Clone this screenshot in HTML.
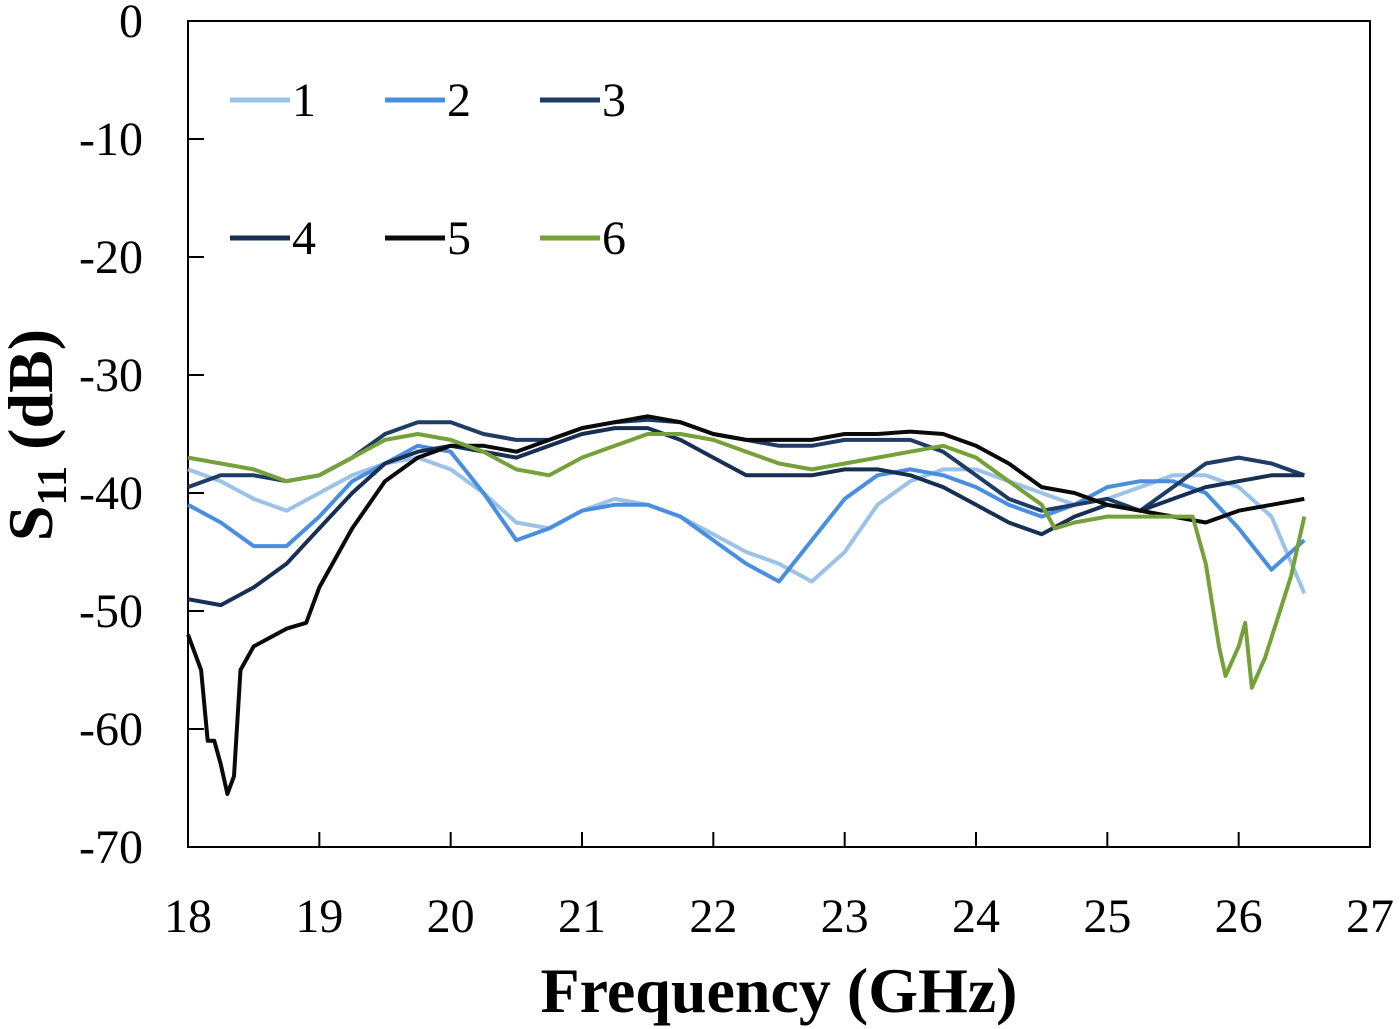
<!DOCTYPE html>
<html><head><meta charset="utf-8"><style>
body{margin:0;background:#fff;}
svg{display:block;font-family:"Liberation Serif",serif;}
</style></head><body>
<svg id="chart" width="1400" height="1029" viewBox="0 0 1400 1029">
<rect x="188" y="21" width="1182" height="826" fill="#fff" stroke="#000" stroke-width="2"/>
<g id="axes"></g>
<g id="series"></g>
<g id="legend"></g>
<text x="779" y="1012" font-size="64" font-weight="bold" text-anchor="middle">Frequency (GHz)</text>
<text transform="translate(52,435) rotate(-90)" font-size="64" font-weight="bold" text-anchor="middle">S<tspan font-size="42" dy="14">11</tspan><tspan dy="-14"> (dB)</tspan></text>
</svg>
<script>
const xTicks=[18,19,20,21,22,23,24,25,26,27];
const yTicks=[0,-10,-20,-30,-40,-50,-60,-70];
const seriesNames=["1","2","3","4","5","6"];
const seriesColors=["#9cc2e8","#4a8ee0","#1f3c66","#172f52","#0a0a0a","#76a03a"];
const freqA=[18,18.25,18.5,18.75,19,19.25,19.5,19.75,20,20.25,20.5,20.75,21,21.25,21.5,21.75,22,22.25,22.5,22.75,23,23.25,23.5,23.75,24,24.25,24.5,24.75,25,25.25,25.5,25.75,26,26.25,26.5];
const s1=[-38,-39,-40.5,-41.5,-40,-38.5,-37.5,-37,-38,-40,-42.5,-43,-41.5,-40.5,-41,-42,-43.5,-45,-46,-47.5,-45,-41,-39,-38,-38,-39,-40,-41,-40.5,-39.5,-38.5,-38.5,-39.5,-42,-48.5];
const s2=[-41,-42.5,-44.5,-44.5,-42,-39,-37.5,-36,-36.5,-40,-44,-43,-41.5,-41,-41,-42,-44,-46,-47.5,-44,-40.5,-38.5,-38,-38.5,-39.5,-41,-42,-41,-39.5,-39,-39,-40,-43,-46.5,-44];
const s3=[-39.5,-38.5,-38.5,-39,-38.5,-37,-35,-34,-34,-35,-35.5,-35.5,-34.5,-34,-33.8,-34,-35,-35.5,-36,-36,-35.5,-35.5,-35.5,-36.5,-38.5,-40.5,-41.5,-41,-40.5,-41.5,-39.5,-37.5,-37,-37.5,-38.5];
const s4=[-49,-49.5,-48,-46,-43,-40,-37.5,-36.5,-36,-36.5,-37,-36,-35,-34.5,-34.5,-35.5,-37,-38.5,-38.5,-38.5,-38,-38,-38.5,-39.5,-41,-42.5,-43.5,-42,-41,-41.5,-40.5,-39.5,-39,-38.5,-38.5];
const freq5=[18,18.1,18.15,18.2,18.25,18.3,18.35,18.4,18.5,18.75,18.9,19,19.25,19.5,19.75,20,20.25,20.5,20.75,21,21.25,21.5,21.75,22,22.25,22.5,22.75,23,23.25,23.5,23.75,24,24.25,24.5,24.75,25,25.25,25.5,25.75,26,26.25,26.5];
const s5=[-52,-55,-61,-61,-63,-65.5,-64,-55,-53,-51.5,-51,-48,-43,-39,-37,-36,-36,-36.5,-35.5,-34.5,-34,-33.5,-34,-35,-35.5,-35.5,-35.5,-35,-35,-34.8,-35,-36,-37.5,-39.5,-40,-41,-41.5,-42,-42.5,-41.5,-41,-40.5];
const freq6=[18,18.25,18.5,18.75,19,19.25,19.5,19.75,20,20.25,20.5,20.75,21,21.25,21.5,21.75,22,22.25,22.5,22.75,23,23.25,23.5,23.75,24,24.25,24.5,24.6,24.75,25,25.25,25.5,25.65,25.75,25.85,25.9,26,26.05,26.1,26.2,26.3,26.4,26.5];
const s6=[-37,-37.5,-38,-39,-38.5,-37,-35.5,-35,-35.5,-36.5,-38,-38.5,-37,-36,-35,-35,-35.5,-36.5,-37.5,-38,-37.5,-37,-36.5,-36,-37,-39,-41,-43,-42.5,-42,-42,-42,-42,-46,-53,-55.5,-53,-51,-56.5,-54,-50.5,-47,-42];
const seriesX=[freqA,freqA,freqA,freqA,freq5,freq6];
const seriesY=[s1,s2,s3,s4,s5,s6];
const NS="http://www.w3.org/2000/svg";
const L=188,R=1370,T=21,B=847;
function sx(v){return L+(v-18)/(27-18)*(R-L);}
function sy(v){return T+(0-v)/70*(B-T);}
const axes=document.getElementById('axes');
xTicks.forEach(t=>{
  const ln=document.createElementNS(NS,'line');
  
  
  ln.setAttribute('x1',sx(t));ln.setAttribute('x2',sx(t));ln.setAttribute('y1',B);ln.setAttribute('y2',B-15);
  ln.setAttribute('stroke','#000');ln.setAttribute('stroke-width','2');axes.appendChild(ln);
  const tx=document.createElementNS(NS,'text');
  
  
  tx.setAttribute('x',sx(t));tx.setAttribute('y',932);tx.setAttribute('font-size','48');tx.setAttribute('text-anchor','middle');
  tx.textContent=t;axes.appendChild(tx);
});
yTicks.forEach(t=>{
  const ln=document.createElementNS(NS,'line');
  
  
  ln.setAttribute('x1',L);ln.setAttribute('x2',L+16);ln.setAttribute('y1',sy(t));ln.setAttribute('y2',sy(t));
  ln.setAttribute('stroke','#000');ln.setAttribute('stroke-width','2');axes.appendChild(ln);
  const tx=document.createElementNS(NS,'text');
  
  
  tx.setAttribute('x',143);tx.setAttribute('y',sy(t)+16);tx.setAttribute('font-size','48');tx.setAttribute('text-anchor','end');
  tx.textContent=t;axes.appendChild(tx);
});
const sg=document.getElementById('series');
seriesY.forEach((ys,i)=>{
  const xs=seriesX[i];
  const p=document.createElementNS(NS,'polyline');
  
  
  p.setAttribute('points',ys.map((v,j)=>sx(xs[j]).toFixed(1)+','+sy(v).toFixed(1)).join(' '));
  p.setAttribute('fill','none');p.setAttribute('stroke',seriesColors[i]);p.setAttribute('stroke-width','4');
  p.setAttribute('stroke-linejoin','round');
  sg.appendChild(p);
});
const lg=document.getElementById('legend');
seriesNames.forEach((n,i)=>{
  const col=i%3,row=Math.floor(i/3);
  const x0=230+col*155,y0=100+row*138;
  const ln=document.createElementNS(NS,'line');
  
  
  ln.setAttribute('x1',x0);ln.setAttribute('x2',x0+60);ln.setAttribute('y1',y0);ln.setAttribute('y2',y0);
  ln.setAttribute('stroke',seriesColors[i]);ln.setAttribute('stroke-width','5');lg.appendChild(ln);
  const tx=document.createElementNS(NS,'text');
  
  
  tx.setAttribute('x',x0+62);tx.setAttribute('y',y0+16);tx.setAttribute('font-size','48');
  tx.textContent=n;lg.appendChild(tx);
});
</script>
</body></html>
